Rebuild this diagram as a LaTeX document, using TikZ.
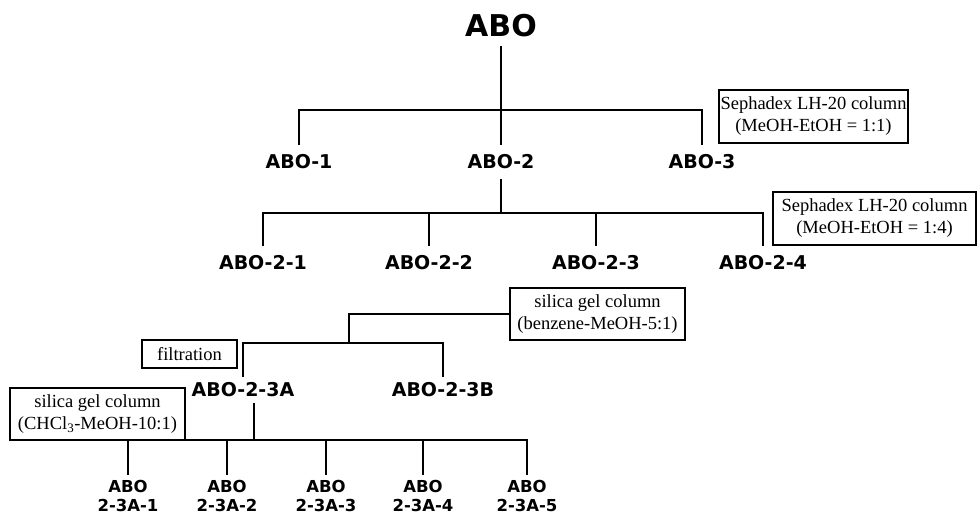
\documentclass[tikz,border=0pt]{standalone}
\usepackage{fontspec}
\setmainfont{Liberation Serif}
\newfontfamily\fracfont{DejaVu Sans}
\usetikzlibrary{positioning}
\tikzset{
    frac/.style = {font=\fracfont\bfseries\fontsize{19}{19}\selectfont, inner sep=10pt},
    method/.style = {draw, line width=1.3pt, align=center, inner sep=0pt, font=\fontsize{18.5}{22}\selectfont},
    link/.style = {line width=1.8pt}
}
\begin{document}
\begin{tikzpicture}[x=1pt, y=-1pt]
    \useasboundingbox (0,0) rectangle (980,518);
    % fractions
    \node[frac, font=\fracfont\bfseries\fontsize{30}{30}\selectfont, inner sep=8pt] (abo) at (501,26) {ABO};
    \node[frac] (abo1) at (299,162) {ABO-1};
    \node[frac] (abo2) at (501,162) {ABO-2};
    \node[frac] (abo3) at (702,162) {ABO-3};
    \node[frac] (abo21) at (263,263) {ABO-2-1};
    \node[frac] (abo22) at (429,263) {ABO-2-2};
    \node[frac] (abo23) at (596,263) {ABO-2-3};
    \node[frac] (abo24) at (763,263) {ABO-2-4};
    \node[frac, inner sep=6pt] (abo23a) at (243,390) {ABO-2-3A};
    \node[frac, inner sep=6pt] (abo23b) at (443,390) {ABO-2-3B};
    \foreach \i/\x in {1/128, 2/227, 3/326, 4/423, 5/527}
        \node[frac, font=\fracfont\bfseries\fontsize{16.5}{19.5}\selectfont, inner sep=5pt, align=center] (sub\i) at (\x,496) {ABO\\2-3A-\i};
    % methods
    \node[method, minimum width=189pt, minimum height=53pt] (seph1) at (813.5,116.5) {Sephadex LH-20 column\\(MeOH-EtOH = 1:1)};
    \node[method, minimum width=203pt, minimum height=53pt] (seph2) at (874.5,218.5) {Sephadex LH-20 column\\(MeOH-EtOH = 1:4)};
    \node[method, minimum width=175pt, minimum height=52pt] (sil1) at (597.5,314) {silica gel column\\(benzene-MeOH-5:1)};
    \node[method, minimum width=95pt, minimum height=28pt] (filt) at (189.5,354) {filtration};
    \node[method, minimum width=175pt, minimum height=52pt] (sil2) at (97.5,414) {silica gel column\\(CHCl\textsubscript{3}-MeOH-10:1)};
    % connectors
    \coordinate (bar1) at (501,110);
    \coordinate (bar2) at (501,213);
    \coordinate (bar3) at (349,343);
    \coordinate (bar4) at (254,440);
    \draw[link] (abo) -- (abo2);
    \draw[link] (abo1) |- (bar1) -| (abo3);
    \draw[link] (abo2) -- (bar2);
    \draw[link] (abo21) |- (bar2) -| (abo24);
    \draw[link] (abo22) -- (abo22 |- bar2);
    \draw[link] (abo23) -- (abo23 |- bar2);
    \draw[link] (sil1) -| (bar3);
    \draw[link] (abo23a) |- (bar3) -| (abo23b);
    \draw[link] (bar4 |- abo23a.south) -- (bar4);
    \draw[link] (sub1) |- (bar4) -| (sub5);
    \foreach \i in {2,3,4}
        \draw[link] (sub\i) -- (sub\i |- bar4);
\end{tikzpicture}
\end{document}
